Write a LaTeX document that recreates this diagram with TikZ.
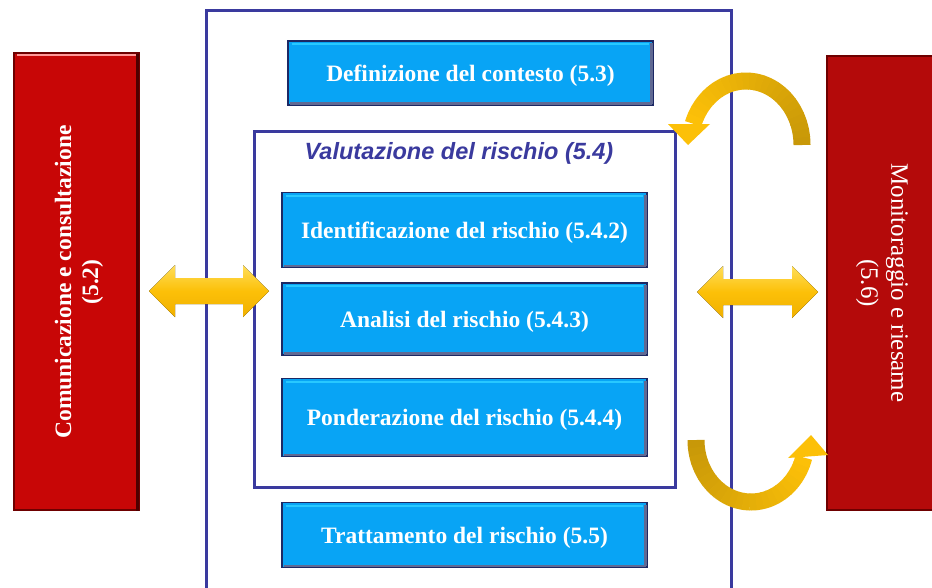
\documentclass[tikz,border=0pt]{standalone}
\usepackage{fontspec}
\setmainfont{Liberation Serif}
\newfontfamily\arialfont{Liberation Sans}
\usetikzlibrary{arrows.meta}
\definecolor{frameblue}{RGB}{58,58,158}
\definecolor{boxblue}{RGB}{8,164,245}
\definecolor{boxedge}{RGB}{28,40,100}
\definecolor{boxlight}{RGB}{40,200,255}
\definecolor{redL}{RGB}{200,6,6}
\definecolor{redR}{RGB}{180,10,10}
\definecolor{rededge}{RGB}{110,0,0}
\definecolor{goldA}{RGB}{252,192,8}
\definecolor{goldB}{RGB}{200,152,8}
\definecolor{yelTop}{RGB}{255,222,90}
\definecolor{yelBot}{RGB}{240,176,0}
\begin{document}
\begin{tikzpicture}[x=1pt,y=-1pt,
  bluebox/.style={draw=boxedge, line width=1.6pt, fill=boxblue, text=white,
    font=\fontsize{23.5}{26}\selectfont\bfseries, inner sep=0pt, text depth=0pt},
  redbox/.style={draw=rededge, line width=1.6pt, inner sep=0pt},
  frameline/.style={draw=frameblue, line width=3pt},
  dbl/.style={draw=none, top color=yelTop, bottom color=yelBot, middle color=goldA}
]
\useasboundingbox (0,0) rectangle (932,587);
\fill[white] (0,0) rectangle (932,587);

% outer frame (open at bottom)
\coordinate (fbl) at (206,590);
\coordinate (ftl) at (206,10);
\coordinate (ftr) at (731,10);
\coordinate (fbr) at (731,590);
\draw[frameline] (fbl) -- (ftl) -- (ftr) -- (fbr);

% inner frame
\node[frameline, minimum width=421pt, minimum height=356pt, inner sep=0pt] (val) at (464.5,309) {};
\node[text=frameblue, font=\arialfont\fontsize{23.5}{26}\selectfont\bfseries\itshape] (valt) at (459,153) {Valutazione del rischio (5.4)};

% blue boxes
\node[bluebox, minimum width=365pt, minimum height=64pt] (def) at (470.5,73) {Definizione del contesto (5.3)};
\node[bluebox, minimum width=365pt, minimum height=75pt] (idf) at (464.5,230) {Identificazione del rischio (5.4.2)};
\node[bluebox, minimum width=365pt, minimum height=72pt] (ana) at (464.5,319) {Analisi del rischio (5.4.3)};
\node[bluebox, minimum width=365pt, minimum height=78pt] (pon) at (464.5,417.5) {Ponderazione del rischio (5.4.4)};
\node[bluebox, minimum width=365pt, minimum height=65pt] (tra) at (464.5,535) {Trattamento del rischio (5.5)};
% bevel highlights
\foreach \n in {def,idf,ana,pon,tra}{
  \draw[boxlight, line width=2pt] ([xshift=5pt,yshift=-4pt]\n.north west) -- ([xshift=-5pt,yshift=-4pt]\n.north east);
  \draw[boxedge!70, line width=2.5pt] ([xshift=-2.5pt,yshift=-3pt]\n.north east) -- ([xshift=-2.5pt,yshift=2pt]\n.south east);
  \draw[boxedge!70, line width=2.5pt] ([xshift=3pt,yshift=2.5pt]\n.south west) -- ([xshift=-2pt,yshift=2.5pt]\n.south east);
}

% red boxes
\node[redbox, fill=redL, minimum width=125pt, minimum height=457pt] (com) at (76.5,281.5) {};
\node[text=white, rotate=90, align=center, font=\fontsize{23.5}{27}\selectfont\bfseries] (comt) at (79,282) {Comunicazione e consultazione\\(5.2)};
\node[redbox, fill=redR, minimum width=110pt, minimum height=454pt] (mon) at (882,283) {};
\node[text=white, rotate=-90, align=center, font=\fontsize{25}{30}\selectfont] (mont) at (882,283) {Monitoraggio e riesame\\(5.6)};
\draw[white!60!red, line width=2pt] ([xshift=4pt,yshift=-3pt]com.north west) -- ([xshift=-4pt,yshift=-3pt]com.north east);
\draw[black!70!red, line width=3pt] ([xshift=-2.5pt,yshift=-2pt]com.north east) -- ([xshift=-2.5pt]com.south east);

% double arrows
\coordinate (la) at (149,291);
\coordinate (lb) at (269,291);
\fill[dbl] (la) -- ++(26,-26) -- ++(0,13) -- (243,278) -- ++(0,-13) -- (lb) -- (243,317) -- ++(0,-13) -- (175,304) -- ++(0,13) -- cycle;
\coordinate (ra) at (697,292);
\coordinate (rb) at (818,292);
\fill[dbl] (ra) -- ++(26,-26) -- ++(0,13) -- (792,279) -- ++(0,-13) -- (rb) -- (792,318) -- ++(0,-13) -- (723,305) -- ++(0,13) -- cycle;

% top curved arrow (tail dark on right, head bright on left)
\foreach \i in {0,...,23}{
  \pgfmathsetmacro{\a}{\i*160/24}
  \pgfmathsetmacro{\b}{(\i+1)*160/24+0.6}
  \pgfmathsetmacro{\p}{100*\i/23}
  \draw[goldA!\p!goldB, line width=17pt] plot[domain=\a:\b, samples=4, smooth] ({746+56*cos(\x)}, {145-64*sin(\x)});
}
\coordinate (tah) at (688,145);
\fill[goldA] (668,124) -- (710,124) -- (tah) -- cycle;

% bottom curved arrow (tail dark on left, head bright on right)
\foreach \i in {0,...,23}{
  \pgfmathsetmacro{\a}{\i*163/24}
  \pgfmathsetmacro{\b}{(\i+1)*163/24+0.6}
  \pgfmathsetmacro{\p}{100*\i/23}
  \draw[goldA!\p!goldB, line width=17pt] plot[domain=\a:\b, samples=4, smooth] ({751-55*cos(\x)}, {440+62*sin(\x)});
}
\coordinate (bah) at (811,435);
\fill[goldA] (788,458) -- (828,455) -- (bah) -- cycle;
\end{tikzpicture}
\end{document}
